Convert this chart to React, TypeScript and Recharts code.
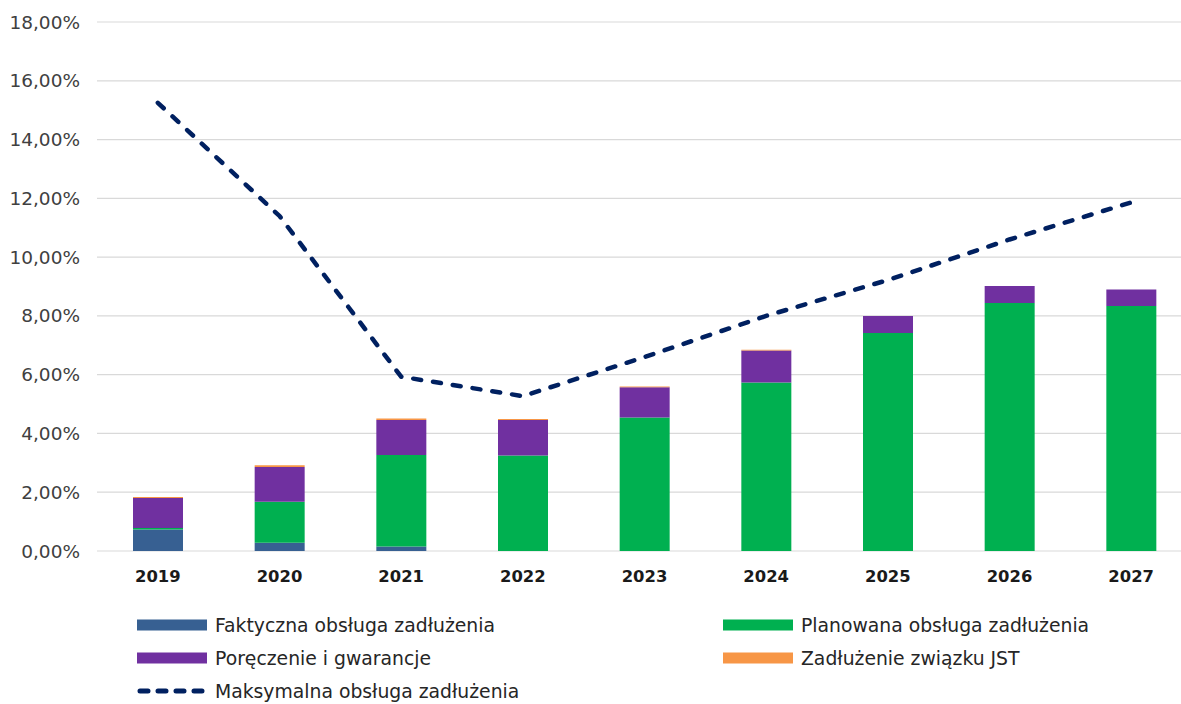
import React from 'react';
import { ComposedChart, Bar, Line, XAxis, YAxis, CartesianGrid } from 'recharts';

const years = ['2019', '2020', '2021', '2022', '2023', '2024', '2025', '2026', '2027'];
const faktyczna = [0.73, 0.28, 0.15, 0, 0, 0, 0, 0, 0];
const planowana = [0.05, 1.4, 3.12, 3.25, 4.54, 5.73, 7.42, 8.44, 8.34];
const poreczenia = [1.02, 1.18, 1.19, 1.21, 1.03, 1.09, 0.58, 0.58, 0.56];
const zwiazek = [0.04, 0.06, 0.05, 0.03, 0.03, 0.03, 0, 0, 0];
const maksymalna = [15.25, 11.4, 5.93, 5.27, 6.6, 8.0, 9.22, 10.6, 11.86];
const yTicks = [0, 2, 4, 6, 8, 10, 12, 14, 16, 18];

const seriesNames = {
  f: 'Faktyczna obsługa zadłużenia',
  p: 'Planowana obsługa zadłużenia',
  g: 'Poręczenie i gwarancje',
  z: 'Zadłużenie związku JST',
  m: 'Maksymalna obsługa zadłużenia',
};
const colors = { f: '#376092', p: '#00B050', g: '#7030A0', z: '#F79646', m: '#002060' };

const data = years.map((y, i) => ({
  year: y,
  f: faktyczna[i],
  p: planowana[i],
  g: poreczenia[i],
  z: zwiazek[i],
  m: maksymalna[i],
}));

const FONT = '"DejaVu Sans", sans-serif';
const fmt = (v: number) => v.toFixed(2).replace('.', ',') + '%';

const legendItems = [
  { key: 'f', left: 137, top: 0, type: 'rect' },
  { key: 'p', left: 723, top: 0, type: 'rect' },
  { key: 'g', left: 137, top: 33, type: 'rect' },
  { key: 'z', left: 723, top: 33, type: 'rect' },
  { key: 'm', left: 137, top: 66, type: 'line' },
];

const LegendBox = () => (
  <div style={{ position: 'absolute', left: 0, top: 613, width: 1181, height: 91 }}>
    {legendItems.map((it) => (
      <div
        key={it.key}
        style={{
          position: 'absolute',
          left: it.left,
          top: it.top,
          height: 24,
          display: 'flex',
          alignItems: 'center',
          fontFamily: FONT,
          fontSize: 18.8,
          color: '#262626',
          whiteSpace: 'nowrap',
        }}
      >
        <svg width={70} height={12} style={{ marginRight: 8 }}>
          {it.type === 'rect' ? (
            <rect x={0} y={0.5} width={70} height={11} fill={(colors as any)[it.key]} />
          ) : (
            <line
              x1={3}
              y1={6}
              x2={68}
              y2={6}
              stroke={colors.m}
              strokeWidth={5}
              strokeDasharray="8 10"
              strokeLinecap="round"
            />
          )}
        </svg>
        <span>{(seriesNames as any)[it.key]}</span>
      </div>
    ))}
  </div>
);

export default function App() {
  return (
    <div style={{ position: 'absolute', left: 0, top: 0, width: 1181, height: 704, overflow: 'hidden', background: '#fff' }}>
      <ComposedChart
        width={1192}
        height={704}
        data={data}
        margin={{ top: 22, right: 0, bottom: 123, left: 0 }}
      >
        <CartesianGrid vertical={false} stroke="#d9d9d9" strokeWidth={1.2} />
        <XAxis
          dataKey="year"
          height={30}
          axisLine={false}
          tickLine={false}
          tickSize={0}
          tickMargin={19}
          interval={0}
          tick={{ fontFamily: FONT, fontSize: 16.4, fontWeight: 'bold', fill: '#1a1a1a' }}
        />
        <YAxis
          width={97}
          domain={[0, 18]}
          ticks={yTicks}
          axisLine={false}
          tickLine={false}
          tickSize={0}
          tickMargin={17}
          tickFormatter={fmt}
          tick={{ fontFamily: FONT, fontSize: 18.5, fill: '#404040' }}
        />
        <Bar dataKey="f" name={seriesNames.f} stackId="a" fill={colors.f} barSize={50} isAnimationActive={false} />
        <Bar dataKey="p" name={seriesNames.p} stackId="a" fill={colors.p} barSize={50} isAnimationActive={false} />
        <Bar dataKey="g" name={seriesNames.g} stackId="a" fill={colors.g} barSize={50} isAnimationActive={false} />
        <Bar dataKey="z" name={seriesNames.z} stackId="a" fill={colors.z} barSize={50} isAnimationActive={false} />
        <Line
          dataKey="m"
          name={seriesNames.m}
          type="linear"
          stroke={colors.m}
          strokeWidth={4.5}
          strokeDasharray="8 12"
          strokeLinecap="round"
          dot={false}
          activeDot={false}
          isAnimationActive={false}
        />
      </ComposedChart>
      <LegendBox />
    </div>
  );
}
